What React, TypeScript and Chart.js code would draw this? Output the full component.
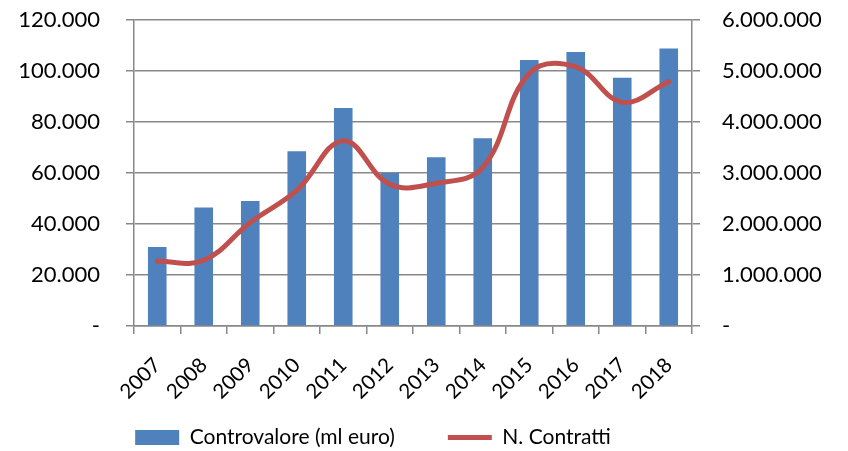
import { useEffect, useRef } from 'react';
import { Chart, registerables } from 'chart.js';

Chart.register(...registerables);

const years = ['2007', '2008', '2009', '2010', '2011', '2012', '2013', '2014', '2015', '2016', '2017', '2018'];
const controvalore = [31000, 46500, 49000, 68500, 85500, 60000, 66200, 73600, 104300, 107500, 97400, 108800];
const contratti = [1270000, 1290000, 2030000, 2660000, 3630000, 2780000, 2800000, 3110000, 4950000, 5080000, 4390000, 4790000];
const leftMax = 120000;
const leftStep = 20000;
const rightMax = 6000000;
const rightStep = 1000000;

const GRID = '#888888';
const FAMILY = 'Lato, "Open Sans", sans-serif';
const FONT = { family: FAMILY, size: 22 };
const X_FONT = { family: FAMILY, size: 20.5 };
const LEGEND_FONT = { family: FAMILY, size: 21 };

function fmt(v: number): string {
  if (v === 0) return '-';
  return String(Math.round(v)).replace(/\B(?=(\d{3})+(?!\d))/g, '.');
}

const legendShift = {
  id: 'legendShift',
  afterLayout(chart: any) {
    const l = chart.legend;
    if (!l) return;
    const dx = -41;
    l.left += dx;
    l.right += dx;
    const h = l.bottom - l.top;
    l.top = 374;
    l.bottom = 374 + h;
  },
};

export default function App() {
  const ref = useRef<HTMLCanvasElement | null>(null);
  useEffect(() => {
    if (!ref.current) return;
    const R = 20;
    const chart = new Chart(ref.current, {
      type: 'bar',
      data: {
        labels: years,
        datasets: [
          {
            type: 'bar',
            label: 'Controvalore (ml euro)',
            data: controvalore,
            backgroundColor: '#4F81BD',
            borderWidth: 0,
            yAxisID: 'y',
            categoryPercentage: 1,
            barPercentage: 0.4,
            order: 1,
            pointStyle: 'rect',
          } as any,
          {
            type: 'line',
            label: 'N. Contratti',
            data: contratti,
            borderColor: '#C0504D',
            backgroundColor: '#C0504D',
            borderWidth: 5,
            pointRadius: 0,
            tension: 0.4,
            yAxisID: 'y1',
            order: 0,
            pointStyle: 'line',
            borderCapStyle: 'round',
          } as any,
        ],
      },
      plugins: [legendShift],
      options: {
        responsive: false,
        animation: false,
        layout: { padding: { top: 20, left: 0, right: R, bottom: -41 } },
        plugins: {
          tooltip: { enabled: false },
          legend: {
            position: 'bottom',
            labels: {
              usePointStyle: true,
              pointStyleWidth: 44,
              boxHeight: 15,
              padding: 53,
              font: LEGEND_FONT,
              color: '#000',
              sort: (a: any, b: any) => a.datasetIndex - b.datasetIndex,
            },
          },
        },
        scales: {
          x: {
            grid: { display: true, drawOnChartArea: false, drawTicks: true, tickLength: 8, color: GRID, lineWidth: 1.5, offset: true },
            border: { color: GRID, width: 1.5 },
            ticks: { minRotation: 45, maxRotation: 45, font: X_FONT, color: '#000', padding: 19, autoSkip: false },
            afterFit: (s: any) => { s.height = 82; s.paddingLeft = 0; s.paddingRight = 0; },
          },
          y: {
            position: 'left',
            min: 0,
            max: leftMax,
            ticks: { stepSize: leftStep, callback: (v: any) => fmt(Number(v)), padding: 26, font: FONT, color: '#000' },
            grid: { color: GRID, lineWidth: 1.5, tickLength: 8 },
            border: { color: GRID, width: 1.5 },
            afterFit: (s: any) => { s.width = 134; s.paddingTop = 0; s.paddingBottom = 0; },
          },
          y1: {
            position: 'right',
            min: 0,
            max: rightMax,
            ticks: { stepSize: rightStep, callback: (v: any) => fmt(Number(v)), padding: 22, font: FONT, color: '#000' },
            grid: { drawOnChartArea: false, color: GRID, lineWidth: 1.5, tickLength: 8 },
            border: { color: GRID, width: 1.5 },
            afterFit: (s: any) => { s.width = 156 - R; s.paddingTop = 0; s.paddingBottom = 0; },
          },
        },
      } as any,
    });
    return () => chart.destroy();
  }, []);
  return (
    <div style={{ position: 'absolute', left: 0, top: 0, width: 848, height: 451, background: '#fff' }}>
      <canvas ref={ref} width={848} height={451} />
    </div>
  );
}
